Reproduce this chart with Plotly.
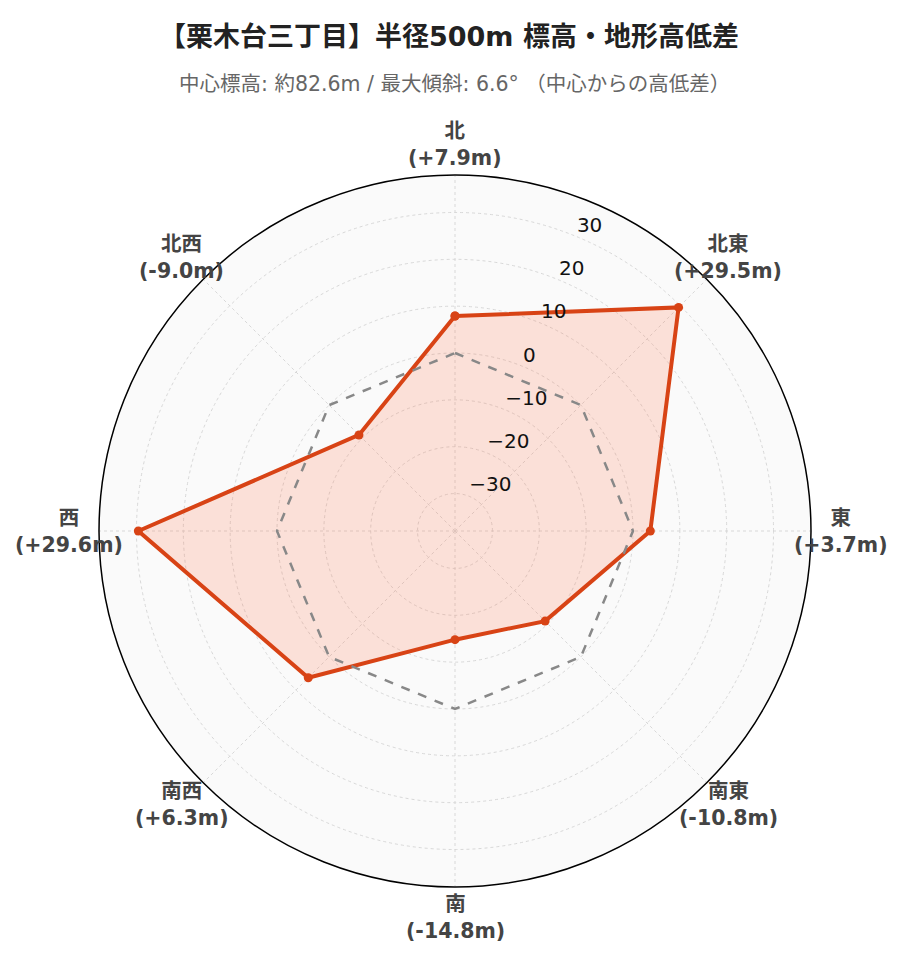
import math
import plotly.graph_objects as go

directions = ["北", "北東", "東", "南東", "南", "南西", "西", "北西"]
diffs = [7.9, 29.5, 3.7, -10.8, -14.8, 6.3, 29.6, -9.0]
zero_ref = [0, 0, 0, 0, 0, 0, 0, 0]
radial_ticks = [-30, -20, -10, 0, 10, 20, 30]
radial_range = [-38, 38]

title_text = "【栗木台三丁目】半径500m 標高・地形高低差"
subtitle_text = "中心標高: 約82.6m / 最大傾斜: 6.6° （中心からの高低差）"

n = len(directions)
angles = [i * 360 / n for i in range(n)]
labels = [f"<b>{d}</b><br><b>({v:+.1f}m)</b>" for d, v in zip(directions, diffs)]

fig = go.Figure()
fig.add_trace(go.Scatterpolar(
    r=diffs + [diffs[0]],
    theta=angles + [angles[0]],
    mode="lines+markers",
    fill="toself",
    fillcolor="rgba(255,112,67,0.19)",
    line=dict(color="#D84315", width=4),
    marker=dict(size=9, color="#D84315"),
    showlegend=False,
))
fig.add_trace(go.Scatterpolar(
    r=zero_ref + [zero_ref[0]],
    theta=angles + [angles[0]],
    mode="lines",
    line=dict(color="#888888", width=2.5, dash="dash"),
    showlegend=False,
))
# radial tick labels along the 22.5° spoke
fig.add_trace(go.Scatterpolar(
    r=radial_ticks,
    theta=[360 / n / 2] * len(radial_ticks),
    mode="text",
    text=[str(v).replace("-", "\u2212") for v in radial_ticks],
    textposition="top right",
    textfont=dict(size=20, color="#111111", family="DejaVu Sans, sans-serif"),
    showlegend=False,
    hoverinfo="skip",
))

W, H = 900, 962
L, R, T, B = 91, 97, 167, 83
plot_h = H - T - B
label_dist = 0.5 * 385 / 355  # label radius relative to polar radius, in domain units


def paper_y(px):
    return (H - B - px) / plot_h


annotations = [
    dict(text=f"<b>{title_text}</b>", xref="paper", yref="paper",
         x=0.4916, y=paper_y(28), xanchor="center", yanchor="middle", showarrow=False,
         font=dict(size=27, color="#222222", family="DejaVu Sans, Noto Sans CJK JP, sans-serif")),
    dict(text=subtitle_text, xref="paper", yref="paper",
         x=0.499, y=paper_y(76), xanchor="center", yanchor="middle", showarrow=False,
         font=dict(size=20.5, color="#666666", family="DejaVu Sans, Noto Sans CJK JP, sans-serif")),
]
for a, lab in zip(angles, labels):
    rad = math.radians(a)
    annotations.append(dict(
        text=lab, xref="paper", yref="paper",
        x=0.5 + label_dist * math.sin(rad), y=0.5 + label_dist * math.cos(rad),
        xanchor="center", yanchor="middle", showarrow=False,
        font=dict(size=20.5, color="#444444", family="DejaVu Sans, Noto Sans CJK JP, sans-serif"),
    ))

fig.update_layout(
    width=W,
    height=H,
    paper_bgcolor="white",
    margin=dict(l=L, r=R, t=T, b=B),
    font=dict(family="DejaVu Sans, Noto Sans CJK JP, sans-serif"),
    annotations=annotations,
    polar=dict(
        bgcolor="#fafafa",
        radialaxis=dict(
            range=radial_range,
            tickvals=radial_ticks,
            showticklabels=False,
            showline=False,
            ticks="",
            gridcolor="#d8d8d8",
            griddash="dot",
        ),
        angularaxis=dict(
            rotation=90,
            direction="clockwise",
            thetaunit="degrees",
            tickmode="array",
            tickvals=angles,
            showticklabels=False,
            gridcolor="#d8d8d8",
            griddash="dot",
            linecolor="black",
            linewidth=1.5,
            ticks="",
        ),
    ),
)

fig.write_html("out.html")
